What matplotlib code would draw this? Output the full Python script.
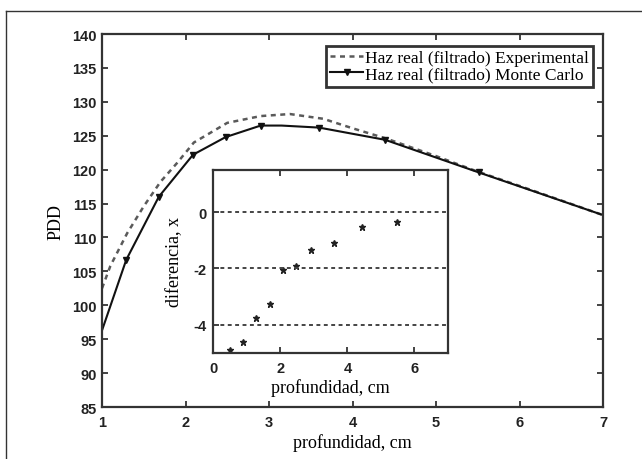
import numpy as np
import matplotlib
matplotlib.use('Agg')
import matplotlib.pyplot as plt
from matplotlib.lines import Line2D

plt.rcParams['axes.unicode_minus'] = False

# curva Monte Carlo (linea continua con marcadores)
mc_x = [1.0, 1.29, 1.68, 2.09, 2.48, 2.9, 3.15, 3.6, 4.39, 5.51, 7.0]
mc_y = [96.3, 106.7, 116.0, 122.2, 124.8, 126.5, 126.5, 126.2, 124.4, 119.6, 113.3]
mc_marks = [1, 2, 3, 4, 5, 7, 8, 9]

# curva experimental (linea discontinua)
exp_x = [1.0, 1.1, 1.3, 1.5, 1.7, 1.9, 2.1, 2.5, 2.9, 3.25, 3.65, 4.0, 4.4, 5.0, 5.5, 6.0, 7.0]
exp_y = [102.5, 105.8, 110.6, 114.6, 118.2, 121.0, 124.0, 126.9, 127.9, 128.2, 127.5, 126.1,
         124.6, 122.0, 119.7, 117.6, 113.3]

# diferencia (grafico interior)
dif_x = [0.5, 0.87, 1.27, 1.69, 2.09, 2.47, 2.92, 3.60, 4.43, 5.49]
dif_y = [-4.89, -4.62, -3.76, -3.25, -2.07, -1.92, -1.33, -1.09, -0.53, -0.36]

serif = ['Liberation Serif', 'DejaVu Serif']
tickfont = dict(family='Liberation Sans', weight='bold', size=10.5)

fig = plt.figure(figsize=(6.42, 4.6), dpi=100)

ax = fig.add_axes([0.1589, 0.1130, 0.7804, 0.8109])
ax.plot(exp_x, exp_y, color='#5a5a5a', lw=1.8, ls=(0, (2.0, 1.8)),
        label='Haz real (filtrado) Experimental')
ax.plot(mc_x, mc_y, color='#111111', lw=1.5, marker='v', ms=4, markevery=mc_marks,
        label='Haz real (filtrado) Monte Carlo')
ax.set_xlim(1, 7)
ax.set_ylim(85, 140)
ax.set_xticks(range(1, 8))
ax.set_yticks(range(85, 141, 5))
ax.tick_params(direction='in', length=4, width=1.2, top=True, right=True, color='#222222')
ax.tick_params(axis='y', pad=4)
ax.tick_params(axis='x', pad=6)
for lab in ax.get_xticklabels() + ax.get_yticklabels():
    lab.set(**tickfont)
    lab.set_color('#222222')
for s in ax.spines.values():
    s.set_linewidth(1.6)
    s.set_color('#333333')
ax.set_xlabel('profundidad, cm', family=serif, fontsize=13, labelpad=3)
ax.set_ylabel('PDD', family=serif, fontsize=13, labelpad=5)

leg = ax.legend(loc='upper right', bbox_to_anchor=(0.980, 0.9686), borderaxespad=0,
                prop={'family': serif, 'size': 12.5}, frameon=True, fancybox=False,
                framealpha=1, edgecolor='#333333', handlelength=1.9, handletextpad=0.1,
                labelspacing=0.0, borderpad=0.25)
leg.get_frame().set_linewidth(2.0)

# grafico interior
ins = fig.add_axes([0.3323, 0.2304, 0.3655, 0.3985])
ins.plot(dif_x, dif_y, ls='none', marker='*', ms=5, color='#222222')
ins.set_xlim(0, 7)
ins.set_ylim(-5, 1.5)
ins.set_xticks([0, 2, 4, 6])
ins.set_yticks([0, -2, -4])
for v in [0, -2, -4]:
    ins.axhline(v, color='#444444', lw=1.4, ls=(0, (2.0, 1.8)), clip_on=False)
ins.tick_params(direction='in', length=4, width=1.2, top=True, color='#222222')
ins.tick_params(axis='y', pad=5)
ins.tick_params(axis='x', pad=6)
for lab in ins.get_xticklabels() + ins.get_yticklabels():
    lab.set(**tickfont)
    lab.set_color('#222222')
for s in ins.spines.values():
    s.set_linewidth(1.6)
    s.set_color('#333333')
ins.set_xlabel('profundidad, cm', family=serif, fontsize=13, labelpad=2)
ins.set_ylabel('diferencia, x', family=serif, fontsize=13, labelpad=7)

# marco exterior de la imagen
fig.add_artist(Line2D([6 / 642, 6 / 642], [0, 1 - 12 / 460], transform=fig.transFigure,
                      color='#333333', lw=1.0))
fig.add_artist(Line2D([6 / 642, 1], [1 - 12 / 460, 1 - 12 / 460], transform=fig.transFigure,
                      color='#333333', lw=1.0))

fig.savefig('out.png', dpi=100)
